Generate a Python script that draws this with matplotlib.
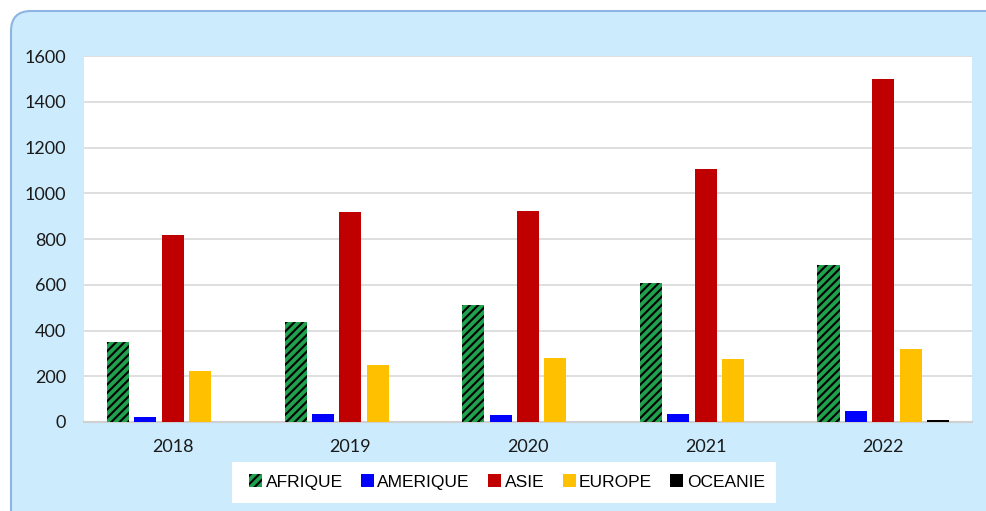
import matplotlib
matplotlib.use("Agg")
import matplotlib.pyplot as plt
from matplotlib.patches import FancyBboxPatch, Rectangle
from matplotlib import font_manager
import numpy as np

years = ["2018", "2019", "2020", "2021", "2022"]
series = ["AFRIQUE", "AMERIQUE", "ASIE", "EUROPE", "OCEANIE"]
afrique = [350, 437, 511, 608, 686]
amerique = [22, 35, 30, 33, 50]
asie = [817, 918, 922, 1106, 1499]
europe = [223, 249, 280, 275, 319]
oceanie = [0, 0, 0, 0, 8]
values = [afrique, amerique, asie, europe, oceanie]
colors = ["#1FA14E", "#0000FF", "#C00000", "#FFC000", "#000000"]
yticks = [0, 200, 400, 600, 800, 1000, 1200, 1400, 1600]

plt.rcParams['hatch.linewidth'] = 1.5
fig = plt.figure(figsize=(9.86, 5.11), dpi=100)
W, H = 986, 511

bgax = fig.add_axes([0, 0, 1, 1], zorder=-10)
bgax.set_xlim(0, W)
bgax.set_ylim(H, 0)
bgax.axis("off")
bgax.add_patch(FancyBboxPatch((11, 11), 1100, 600, boxstyle="round,pad=0,rounding_size=20",
                              facecolor="#CCEBFD", edgecolor="#8EB4E3", linewidth=1.5))
bgax.add_patch(Rectangle((232, 462), 776 - 232, 503 - 462, facecolor="white", edgecolor="none"))

ax = fig.add_axes([84 / W, 1 - 422 / H, (972 - 84) / W, (422 - 56) / H])
ax.set_facecolor("white")
x = np.arange(len(years))
step = 0.154
width = 0.124
for i, (name, vals, c) in enumerate(zip(series, values, colors)):
    off = (i - 2) * step
    if name == "AFRIQUE":
        ax.bar(x + off, vals, width, facecolor=c, edgecolor="black", hatch="////",
               linewidth=0, label=name, zorder=3)
    else:
        ax.bar(x + off, vals, width, color=c, label=name, zorder=3)

ax.set_ylim(0, 1600)
ax.set_xlim(-0.5, 4.5)
ax.set_yticks(yticks)
ax.set_xticks(x)
ax.set_xticklabels(years)
ax.yaxis.grid(True, color="#D9D9D9", linewidth=1.2, zorder=0)
ax.set_axisbelow(True)
for s in ["top", "right", "left"]:
    ax.spines[s].set_visible(False)
ax.spines["bottom"].set_color("#D0D0D0")
ax.spines["bottom"].set_linewidth(1.5)
ax.tick_params(axis="both", length=0, labelsize=13, colors="#1A1A1A")
ax.tick_params(axis="y", pad=13)
ax.tick_params(axis="x", pad=12)
for lab in ax.get_xticklabels() + ax.get_yticklabels():
    lab.set_fontfamily("Lato")

names = {f.name for f in font_manager.fontManager.ttflist}
legfam = "Liberation Sans Narrow" if "Liberation Sans Narrow" in names else "Liberation Sans"
leg = fig.legend(loc="center", bbox_to_anchor=(507 / W, 1 - 482 / H), ncol=5, frameon=False,
                 handlelength=0.75, handleheight=0.75, handletextpad=0.2, columnspacing=1.05,
                 prop={"family": legfam, "size": 12.5})
fig.savefig("out.png", dpi=100)
